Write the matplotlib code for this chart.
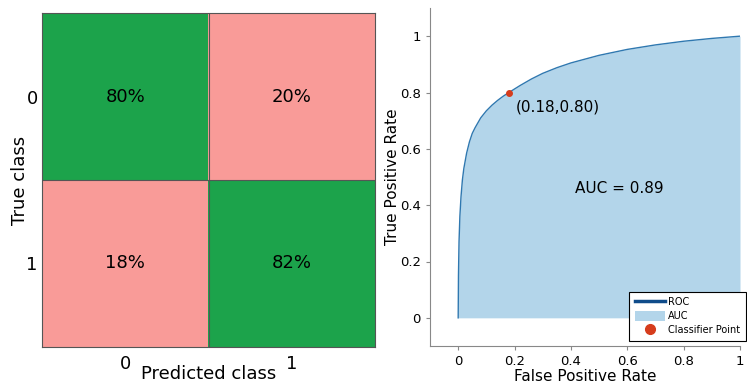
import numpy as np
import matplotlib
matplotlib.use("Agg")
import matplotlib.pyplot as plt
from matplotlib.colors import ListedColormap
from matplotlib.lines import Line2D
from matplotlib.patches import Patch

# confusion matrix (percent)
classes = ["0", "1"]
conf_pct = np.array([[80, 20],
                     [18, 82]])

# ROC curve
fpr = [0, 0.001, 0.003, 0.006, 0.01, 0.015, 0.02, 0.03, 0.04, 0.05, 0.06,
       0.08, 0.1, 0.12, 0.14, 0.16, 0.18, 0.22, 0.26, 0.3, 0.35, 0.4,
       0.5, 0.6, 0.7, 0.8, 0.9, 1.0]
tpr = [0, 0.15, 0.27, 0.36, 0.43, 0.49, 0.53, 0.585, 0.625, 0.655, 0.675,
       0.71, 0.735, 0.755, 0.772, 0.787, 0.80, 0.825, 0.848, 0.868, 0.888, 0.905,
       0.932, 0.953, 0.969, 0.982, 0.992, 1.0]
point_fpr, point_tpr = 0.18, 0.80
auc_value = 0.89
roc_ticks = [0, 0.2, 0.4, 0.6, 0.8, 1]
roc_ticklabels = ["0", "0.2", "0.4", "0.6", "0.8", "1"]

W, H = 747, 383
fig = plt.figure(figsize=(W / 100, H / 100), dpi=100)

# ---- confusion matrix ----
ax1 = fig.add_axes([42 / W, (H - 347) / H, 333 / W, 334 / H])
cmap = ListedColormap(["#f99b98", "#1ca34b"])
correct = (conf_pct >= 50).astype(int)
ax1.imshow(correct, cmap=cmap, vmin=0, vmax=1, aspect="auto")
for i in range(conf_pct.shape[0]):
    for j in range(conf_pct.shape[1]):
        ax1.text(j, i, f"{conf_pct[i, j]}%", ha="center", va="center",
                 fontsize=13, color="black")
ax1.set_xticks(range(len(classes)))
ax1.set_yticks(range(len(classes)))
ax1.set_xticklabels(classes, fontsize=13)
ax1.set_yticklabels(classes, fontsize=13)
ax1.tick_params(axis="x", length=0, pad=6)
ax1.tick_params(axis="y", length=0, pad=3)
ax1.set_xlabel("Predicted class", fontsize=13, labelpad=-6)
ax1.set_ylabel("True class", fontsize=13, labelpad=-2)
ax1.axhline(0.5, color="#555555", lw=0.8)
ax1.axvline(0.5, color="#555555", lw=0.8)
for s in ax1.spines.values():
    s.set_color("#555555")
    s.set_linewidth(0.8)

# ---- ROC ----
ax2 = fig.add_axes([430 / W, (H - 346) / H, 310 / W, 338 / H])
ax2.fill_between(fpr, tpr, 0, color="#b3d5ea", lw=0)
ax2.plot(fpr, tpr, color="#2f78b0", lw=1)
ax2.plot(point_fpr, point_tpr, "o", color="#d63c1c", ms=4)
ax2.text(point_fpr + 0.025, point_tpr - 0.05, f"({point_fpr:.2f},{point_tpr:.2f})",
         fontsize=11, va="center", ha="left")
ax2.text(0.57, 0.46, f"AUC = {auc_value:.2f}", fontsize=11, ha="center", va="center")
ax2.set_xlim(-0.1, 1.0)
ax2.set_ylim(-0.1, 1.1)
ax2.set_xticks(roc_ticks)
ax2.set_xticklabels(roc_ticklabels, fontsize=9.5)
ax2.set_yticks(roc_ticks)
ax2.set_yticklabels(roc_ticklabels, fontsize=9.5)
ax2.tick_params(length=3, color="#888888")
ax2.set_xlabel("False Positive Rate", fontsize=11, labelpad=1)
ax2.set_ylabel("True Positive Rate", fontsize=11, labelpad=0)
for side in ["top", "right"]:
    ax2.spines[side].set_visible(False)
for side in ["left", "bottom"]:
    ax2.spines[side].set_color("#888888")

handles = [Line2D([0], [0], color="#0f4c8a", lw=2.5),
           Patch(facecolor="#b3d5ea", edgecolor="none"),
           Line2D([0], [0], marker="o", color="#d63c1c", lw=0, ms=7)]
leg = ax2.legend(handles, ["ROC", "AUC", "Classifier Point"], loc="lower right",
                 bbox_to_anchor=(746 / W, (H - 341) / H), bbox_transform=fig.transFigure,
                 fontsize=7, frameon=True, fancybox=False, framealpha=1,
                 handlelength=3.1, handleheight=1.1, borderpad=0.6, labelspacing=0.4,
                 handletextpad=0.3, borderaxespad=0)
leg.get_frame().set_edgecolor("black")
leg.get_frame().set_linewidth(0.8)

fig.savefig("out.png", dpi=100)
